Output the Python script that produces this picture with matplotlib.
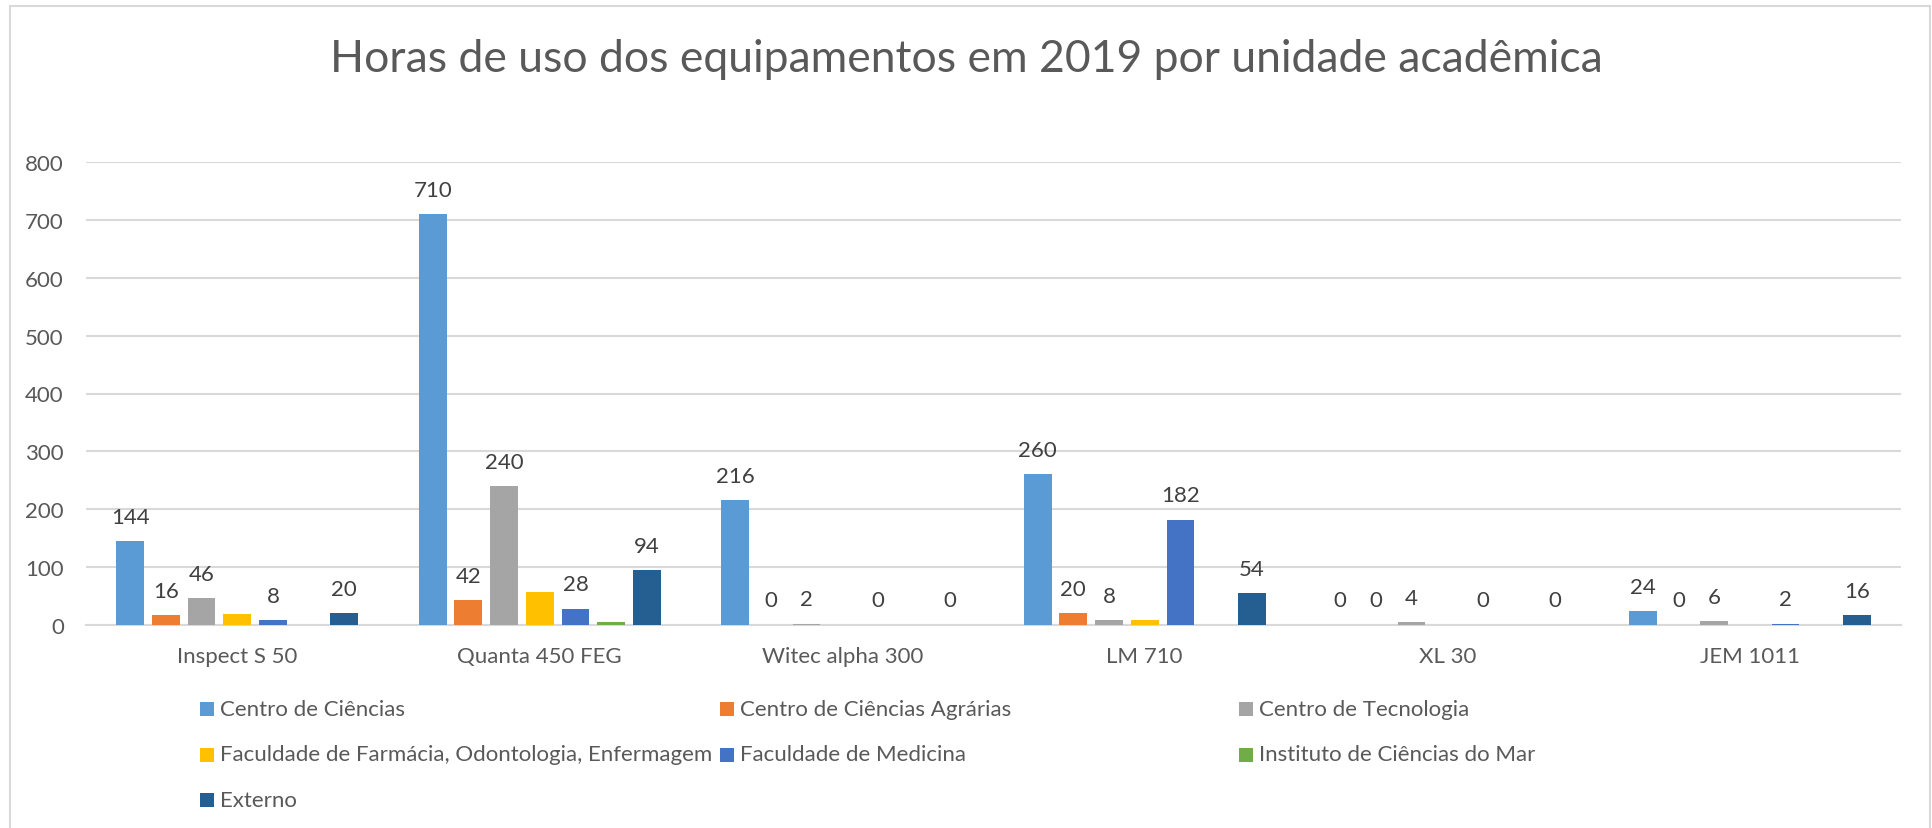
import matplotlib
matplotlib.use('Agg')
from matplotlib import pyplot as plt
from matplotlib.patches import Rectangle
import numpy as np

plt.rcParams['font.family'] = ['Lato', 'DejaVu Sans']

# Dados
equipamentos = ['Inspect S 50', 'Quanta 450 FEG', 'Witec alpha 300', 'LM 710', 'XL 30', 'JEM 1011']
unidades = ['Centro de Ciências', 'Centro de Ciências Agrárias', 'Centro de Tecnologia',
            'Faculdade de Farmácia, Odontologia, Enfermagem', 'Faculdade de Medicina',
            'Instituto de Ciências do Mar', 'Externo']
centro_ciencias = [144, 710, 216, 260, 0, 24]
centro_agrarias = [16, 42, 0, 20, 0, 0]
centro_tecnologia = [46, 240, 2, 8, 4, 6]
farmacia = [18, 56, 0, 8, 0, 0]
medicina = [8, 28, 0, 182, 0, 2]
ciencias_mar = [0, 4, 0, 0, 0, 0]
externo = [20, 94, 0, 54, 0, 16]
series = [centro_ciencias, centro_agrarias, centro_tecnologia, farmacia, medicina, ciencias_mar, externo]
com_rotulo = [True, True, True, False, True, False, True]

cores = ['#5B9BD5', '#ED7D31', '#A5A5A5', '#FFC000', '#4472C4', '#70AD47', '#255E91']

W, H = 1932, 829
fs = 16
fig = plt.figure(figsize=(W / 100, H / 100), dpi=100)
ax = fig.add_axes([86 / W, 1 - 625.7 / H, (1901 - 86) / W, (625.7 - 163.3) / H])

x = np.arange(len(equipamentos))
passo = 0.118
largura = 0.092
n = len(series)
for i, (vals, cor, rot) in enumerate(zip(series, cores, com_rotulo)):
    pos = x + (i - (n - 1) / 2) * passo
    bars = ax.bar(pos, vals, width=largura, color=cor, zorder=3)
    if rot:
        for b, v in zip(bars, vals):
            ax.annotate(str(v), (b.get_x() + b.get_width() / 2, v), xytext=(0, 17.5),
                        textcoords='offset points', ha='center', va='center',
                        fontsize=fs, color='#404040')

ax.set_xlim(-0.5, len(equipamentos) - 0.5)
ax.set_ylim(0, 800)
ax.set_yticks(np.arange(0, 801, 100))
ax.set_xticks(x)
ax.set_xticklabels(equipamentos)
ax.tick_params(axis='both', length=0, labelsize=fs, labelcolor='#595959')
ax.tick_params(axis='y', pad=16)
ax.tick_params(axis='x', pad=15)
ax.grid(axis='y', color='#D9D9D9', linewidth=1.5, zorder=0)
for s in ['top', 'right', 'left']:
    ax.spines[s].set_visible(False)
ax.spines['bottom'].set_color('#D9D9D9')
ax.spines['bottom'].set_linewidth(1.5)

fig.text(0.5, 1 - 59 / H, 'Horas de uso dos equipamentos em 2019 por unidade acadêmica',
         ha='center', va='center', fontsize=32, color='#595959')

# Legenda manual em 3 colunas (ordem por linha, como no Excel)
for i, (nome, cor) in enumerate(zip(unidades, cores)):
    linha, col = divmod(i, 3)
    x0 = 200 + col * 519.5
    y0 = 710 + linha * 45.5
    fig.patches.append(Rectangle((x0 / W, 1 - (y0 + 7) / H), 14 / W, 14 / H,
                                 transform=fig.transFigure, facecolor=cor, edgecolor='none'))
    fig.text((x0 + 20) / W, 1 - y0 / H, nome, ha='left', va='center',
             fontsize=fs, color='#595959')

# Moldura do gráfico
fig.patches.append(Rectangle((10 / W, -0.05), 1920 / W, 1 - 7 / H + 0.05,
                             transform=fig.transFigure, facecolor='none',
                             edgecolor='#D9D9D9', linewidth=1.5))

fig.savefig('out.png', dpi=100)
plt.close(fig)
